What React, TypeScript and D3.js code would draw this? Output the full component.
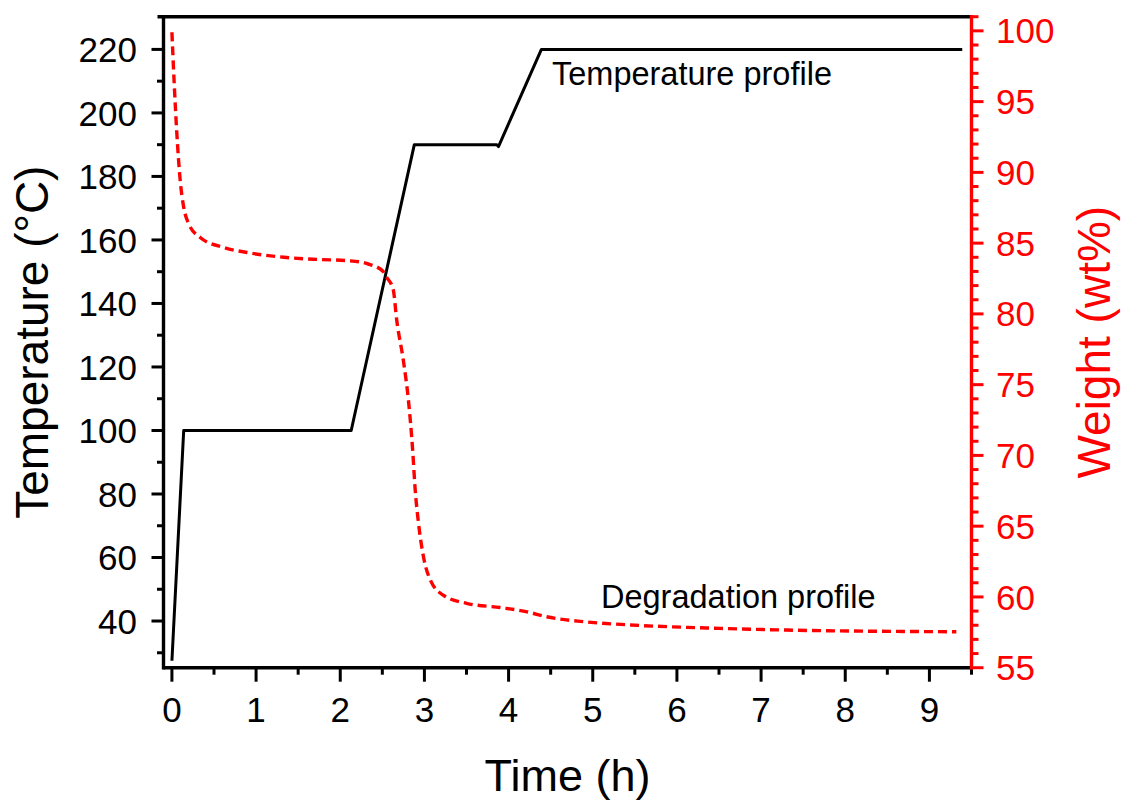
import React from "react";
import * as d3 from "d3";

// Temperature profile (°C) vs time (h)
const tempTime = [0, 0.14, 2.13, 2.88, 3.86, 3.88, 4.39, 9.39];
const tempValues = [27.5, 100, 100, 190, 190, 189.4, 220, 220];

// Degradation profile (wt%) vs time (h)
const weightTime = [
  0, 0.027, 0.059, 0.099, 0.138, 0.197, 0.336, 0.613, 0.93, 1.33, 1.72, 2.12, 2.32,
  2.51, 2.55, 2.63, 2.67, 2.75, 2.81, 2.86, 2.89, 2.93, 2.99, 3.07, 3.23, 3.5, 3.9,
  4.22, 4.45, 4.89, 5.45, 6.51, 7.3, 9.32,
];
const weightValues = [
  99.9, 96.3, 92.7, 89.4, 87.6, 86.4, 85.4, 84.7, 84.3, 84.0, 83.85, 83.75, 83.55,
  83.0, 82.6, 81.7, 79.6, 76.7, 73.9, 70.4, 67.6, 65.2, 62.8, 61.2, 60.1, 59.55, 59.25,
  58.95, 58.6, 58.25, 58.02, 57.78, 57.66, 57.54,
];

const xMajorTicks = [0, 1, 2, 3, 4, 5, 6, 7, 8, 9];
const xMinorTicks = [0.5, 1.5, 2.5, 3.5, 4.5, 5.5, 6.5, 7.5, 8.5, 9.5];
const tempMajorTicks = [40, 60, 80, 100, 120, 140, 160, 180, 200, 220];
const tempMinorTicks = [30, 50, 70, 90, 110, 130, 150, 170, 190, 210];
const weightMajorTicks = [55, 60, 65, 70, 75, 80, 85, 90, 95, 100];
const weightMinorTicks = d3.range(56, 102).filter((v) => v % 5 !== 0);

const xLabel = "Time (h)";
const yLeftLabel = "Temperature (°C)";
const yRightLabel = "Weight (wt%)";
const tempAnnotation = "Temperature profile";
const weightAnnotation = "Degradation profile";

const W = 1122;
const H = 802;
const left = 163.5;
const right = 971.5;
const top = 16.7;
const bottom = 667.7;
const FONT = "'Liberation Sans', Arial, sans-serif";
const RED = "#ff0000";

export default function App() {
  const x = d3.scaleLinear().domain([-0.1, 9.5]).range([left, right]);
  const yT = d3.scaleLinear().domain([25.3, 230.3]).range([bottom, top]);
  const yW = d3.scaleLinear().domain([55, 101]).range([bottom, top]);

  const tempLine = d3
    .line<number>()
    .x((_, i) => x(tempTime[i]))
    .y((d) => yT(d));
  const weightLine = d3
    .line<number>()
    .x((_, i) => x(weightTime[i]))
    .y((d) => yW(d))
    .curve(d3.curveMonotoneX);

  return (
    <svg
      width={W}
      height={H}
      style={{ position: "absolute", left: 0, top: 0, background: "#fff" }}
      fontFamily={FONT}
    >
      <rect width={W} height={H} fill="#fff" />
      {/* data */}
      <path d={tempLine(tempValues) || ""} fill="none" stroke="#000" strokeWidth={3} strokeLinejoin="round" />
      <path
        d={weightLine(weightValues) || ""}
        fill="none"
        stroke={RED}
        strokeWidth={3.4}
        strokeDasharray="9,5"
      />

      {/* top frame line */}
      <line x1={left - 6} x2={right} y1={top} y2={top} stroke="#000" strokeWidth={3.4} />

      {/* bottom axis */}
      <line x1={left} x2={right} y1={bottom} y2={bottom} stroke="#000" strokeWidth={3.4} />
      {xMajorTicks.map((t) => (
        <g key={"xM" + t}>
          <line x1={x(t)} x2={x(t)} y1={bottom} y2={bottom + 14} stroke="#000" strokeWidth={3} />
          <text x={x(t)} y={722} fontSize={35} textAnchor="middle" fill="#000">
            {t}
          </text>
        </g>
      ))}
      {xMinorTicks.map((t) => (
        <line key={"xm" + t} x1={x(t)} x2={x(t)} y1={bottom} y2={bottom + 7} stroke="#000" strokeWidth={3} />
      ))}
      <text x={(left + right) / 2} y={791} fontSize={45} textAnchor="middle" fill="#000">
        {xLabel}
      </text>

      {/* left axis */}
      <line x1={left} x2={left} y1={top - 1.7} y2={bottom + 1.7} stroke="#000" strokeWidth={3.4} />
      {tempMajorTicks.map((t) => (
        <g key={"yM" + t}>
          <line x1={left - 12} x2={left} y1={yT(t)} y2={yT(t)} stroke="#000" strokeWidth={3} />
          <text x={137} y={yT(t)} dy="0.36em" fontSize={35} textAnchor="end" fill="#000">
            {t}
          </text>
        </g>
      ))}
      {tempMinorTicks.map((t) => (
        <line key={"ym" + t} x1={left - 6.5} x2={left} y1={yT(t)} y2={yT(t)} stroke="#000" strokeWidth={3} />
      ))}
      <text
        transform={`translate(48,${(top + bottom) / 2}) rotate(-90)`}
        fontSize={46}
        textAnchor="middle"
        fill="#000"
      >
        {yLeftLabel}
      </text>

      {/* right axis */}
      <line x1={right} x2={right} y1={top - 1.7} y2={bottom + 1.7} stroke={RED} strokeWidth={3.4} />
      {weightMajorTicks.map((t) => (
        <g key={"wM" + t}>
          <line x1={right} x2={right + 12} y1={yW(t)} y2={yW(t)} stroke={RED} strokeWidth={3} />
          <text x={996} y={yW(t)} dy="0.36em" fontSize={35} textAnchor="start" fill={RED}>
            {t}
          </text>
        </g>
      ))}
      {weightMinorTicks.map((t) => (
        <line key={"wm" + t} x1={right} x2={right + 7} y1={yW(t)} y2={yW(t)} stroke={RED} strokeWidth={3} />
      ))}
      <text
        transform={`translate(1110,${(top + bottom) / 2}) rotate(-90)`}
        fontSize={46}
        textAnchor="middle"
        fill={RED}
      >
        {yRightLabel}
      </text>

      {/* annotations */}
      <text x={552} y={85} fontSize={32.5} fill="#000">
        {tempAnnotation}
      </text>
      <text x={601} y={608} fontSize={32.5} fill="#000">
        {weightAnnotation}
      </text>
    </svg>
  );
}
